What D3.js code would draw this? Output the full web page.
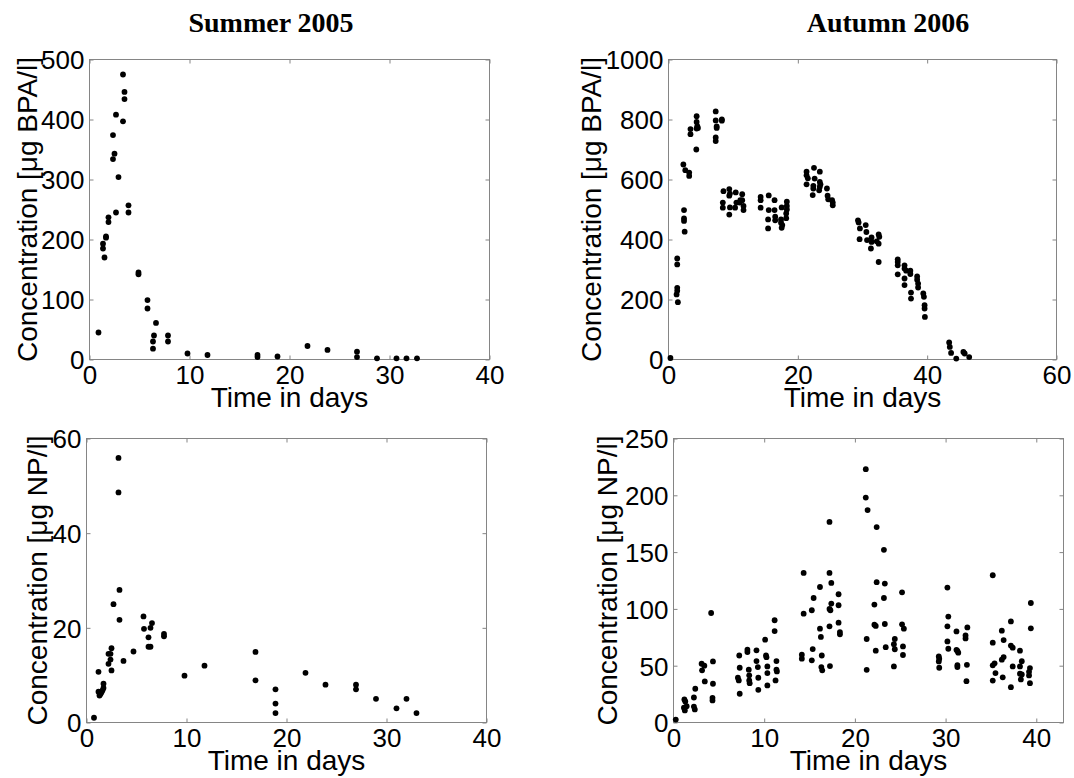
<!DOCTYPE html>
<html lang="en">
<head>
<meta charset="UTF-8">
<title>BPA and NP concentrations</title>
<script src="https://d3js.org/d3.v7.min.js"></script>
<style>
  body { margin: 0; background: #fff; }
  svg { display: block; }
  .tick text { font-family: "Liberation Sans", Arial, sans-serif; font-size: 26px; fill: #000; }
  .axis-label { font-family: "Liberation Sans", Arial, sans-serif; font-size: 28px; fill: #000; }
  .title { font-family: "Liberation Serif", "Times New Roman", serif; font-weight: bold; font-size: 28px; fill: #000; }
</style>
</head>
<body>
<svg id="chart"></svg>
<script>
// [day, concentration] pairs
const bpaSummer = [
  [0.9, 45], [1.5, 170], [1.35, 185], [1.35, 193], [1.65, 203], [1.65, 205], [1.9, 229], [1.9, 237],
  [2.65, 245], [3.9, 257], [3.9, 245], [2.9, 304], [2.35, 334], [2.5, 343], [2.35, 374], [2.65, 408],
  [3.35, 397], [3.5, 434], [3.5, 446], [3.35, 475], [4.9, 145], [4.9, 142], [5.8, 99], [5.8, 85],
  [6.65, 61], [6.45, 40], [6.35, 30], [6.35, 18], [7.85, 40], [7.85, 30], [9.8, 10], [11.8, 7.5],
  [16.8, 7.5], [16.8, 4], [18.8, 5], [21.8, 22.5], [23.8, 16], [26.75, 13], [26.75, 4], [28.75, 2],
  [30.7, 2], [31.7, 2], [32.75, 2]
];

const bpaAutumn = [
  [0.3, 5], [1.35, 337], [1.35, 317], [1.35, 239], [1.35, 229], [1.25, 217], [1.45, 191],
  [2.5, 426], [2.4, 498], [2.4, 470], [2.4, 462], [2.3, 650], [2.6, 631], [3.2, 623], [3.2, 612],
  [3.4, 768], [3.4, 751], [4.3, 700], [4.35, 811], [4.35, 792], [4.45, 778], [4.35, 770], [4.55, 772],
  [7.3, 827], [7.3, 797], [7.45, 777], [7.45, 772], [7.3, 740], [7.3, 728], [8.25, 800], [8.25, 796],
  [8.4, 523], [8.4, 506], [8.5, 561], [9.4, 568], [9.5, 553], [9.4, 546], [9.4, 483], [9.5, 507],
  [10.3, 506], [10.4, 557], [10.5, 523], [11.4, 551], [11.4, 531], [11.6, 512], [11.6, 498],
  [11.0, 523], [11.1, 531],
  [14.25, 542], [14.25, 531], [14.25, 506], [15.5, 547], [15.5, 498], [15.4, 467], [15.4, 437],
  [16.4, 531], [16.4, 498], [16.5, 476], [16.5, 464], [17.4, 467], [17.4, 456], [17.5, 439],
  [17.6, 448], [17.5, 507], [18.3, 526], [18.3, 512], [18.3, 500], [18.2, 487], [18.2, 471],
  [21.35, 626], [21.35, 614], [21.35, 584], [21.55, 604], [22.5, 639], [22.6, 603], [22.4, 579],
  [22.4, 570], [22.3, 548], [23.4, 626], [23.4, 592], [23.4, 576], [23.3, 564], [23.5, 584],
  [24.5, 570], [24.6, 546], [24.7, 534], [25.3, 531], [25.4, 523], [25.4, 514],
  [29.3, 464], [29.4, 457], [29.6, 437], [29.55, 401], [30.5, 448], [30.6, 425], [30.7, 398],
  [31.4, 407], [31.4, 392], [31.3, 370], [32.2, 394], [32.5, 417], [32.6, 409], [32.5, 386], [32.5, 325],
  [35.45, 334], [35.45, 325], [35.45, 314], [35.45, 284], [36.5, 314], [36.5, 303], [36.5, 270],
  [36.5, 248], [36.75, 296], [37.4, 296], [37.4, 285], [37.5, 223], [37.5, 203], [38.45, 277],
  [38.45, 266], [38.6, 253], [38.6, 240], [39.4, 220], [39.5, 209], [39.6, 181], [39.6, 170], [39.65, 142],
  [43.4, 57], [43.5, 42], [43.7, 22], [44.5, 3], [45.6, 25], [45.8, 20], [46.5, 8]
];

const npSummer = [
  [0.75, 1], [1.2, 10.7], [1.2, 6.5], [1.3, 5.7], [1.4, 6.0], [1.5, 6.4], [1.6, 6.8], [1.7, 7.3],
  [1.7, 8.2], [2.5, 15.7], [2.2, 14.5], [2.4, 14.5], [2.4, 13.3], [2.2, 12.4], [2.5, 11.0],
  [2.7, 25.0], [3.2, 55.9], [3.2, 48.6], [3.3, 28.0], [3.3, 21.7], [3.7, 13.0], [4.7, 15.0],
  [5.7, 22.4], [5.75, 19.8], [6.2, 18.0], [6.2, 16.0], [6.4, 16.0], [6.4, 20.0], [6.55, 21.0],
  [7.75, 18.7], [7.75, 18.2], [9.8, 9.9], [11.8, 12.0], [16.9, 14.9], [16.9, 8.9], [18.9, 7.0],
  [18.9, 4.0], [18.9, 2.0], [21.9, 10.5], [23.9, 8.0], [26.95, 8.0], [26.95, 7.0], [28.95, 5.0],
  [31.0, 3.0], [32.0, 5.0], [33.0, 2.0]
];

const npAutumn = [
  [0.25, 2.6], [1.2, 20.3], [1.3, 18.5], [1.15, 13], [1.25, 10.6], [1.45, 14.4], [2.25, 22],
  [2.25, 14], [2.35, 11.5], [2.4, 29.7], [3.15, 45.9], [3.1, 51.7], [3.4, 50], [3.45, 36.2],
  [4.15, 96.4], [4.35, 53.8], [4.35, 34.1], [4.3, 21.7], [4.3, 19.4],
  [7.25, 59], [7.3, 48.2], [7.1, 39.4], [7.2, 37], [7.3, 25.3], [8.15, 64.1], [8.15, 62], [8.3, 46.5],
  [8.35, 41.5], [8.35, 37], [8.4, 34.6], [9.15, 63.5], [9.15, 54.1], [9.3, 48.8], [9.35, 39.4],
  [9.35, 28.8], [10.1, 72.9], [10.2, 59], [10.25, 57.5], [10.35, 49.4], [10.35, 43.5], [10.35, 32.6],
  [11.15, 90], [11.15, 80.5], [11.35, 54.1], [11.35, 46.5], [11.4, 45], [11.25, 37],
  [14.35, 131.7], [14.35, 95.8], [14.15, 59.7], [14.15, 56.2], [15.45, 109.6], [15.25, 98.8],
  [15.35, 64.6], [15.25, 54.7], [16.15, 119.3], [16.15, 82.6], [16.25, 75.3], [16.35, 59],
  [16.3, 48.8], [16.4, 45.9], [17.25, 49.7], [17.2, 176.6], [17.2, 131.7], [17.4, 122.9],
  [17.4, 104.7], [17.2, 100], [17.3, 98.8], [17.2, 84.7], [18.2, 112.9], [18.2, 103.2],
  [18.2, 87.9], [18.35, 79.6], [18.35, 77.6],
  [21.2, 223], [21.2, 198], [21.4, 187], [22.4, 172], [23.2, 152], [22.4, 123.5], [23.3, 122.3],
  [23.2, 109.6], [25.2, 114.6], [22.15, 103.8], [22.15, 86.1], [22.3, 85], [23.3, 86.7], [25.2, 86.4],
  [25.4, 82.6], [21.3, 73.5], [22.3, 63.2], [23.4, 66.3], [24.4, 73.5], [24.3, 68.9], [24.4, 64.5],
  [25.3, 67], [25.3, 59.4], [21.3, 46.4], [24.3, 49.4],
  [30.2, 118.8], [30.3, 93.2], [30.2, 84.7], [31.2, 80.2], [32.4, 83.7], [32.2, 76.6], [32.2, 74],
  [30.2, 71.4], [30.3, 64.9], [31.3, 63], [31.4, 61.5], [31.2, 64], [29.25, 58.2], [29.3, 56.2],
  [29.25, 53.8], [29.3, 48.2], [31.3, 50.5], [31.3, 48.8], [32.35, 50.8], [32.3, 36.4],
  [35.2, 129.6], [39.4, 105.2], [39.4, 82.9], [37.2, 89], [36.2, 80.8], [36.4, 72.6], [35.2, 70.3],
  [37.2, 67.7], [37.4, 65.9], [38.2, 63.2], [36.4, 57.6], [36.2, 55.3], [38.4, 53.9], [35.4, 52.1],
  [35.2, 50.3], [37.4, 49.4], [38.2, 49.4], [39.3, 47.9], [39.2, 44.6], [35.5, 43.5], [38.2, 43],
  [38.4, 42.3], [39.2, 41.4], [36.3, 39.8], [35.2, 36.9], [38.3, 37.9], [37.2, 31.1], [39.3, 34.6]
];

const xTicksSummer = [0, 10, 20, 30, 40];
const xTicksBpaAutumn = [0, 20, 40, 60];
const xTicksNpAutumn = [0, 10, 20, 30, 40];
const yTicksBpaSummer = [0, 100, 200, 300, 400, 500];
const yTicksBpaAutumn = [0, 200, 400, 600, 800, 1000];
const yTicksNpSummer = [0, 20, 40, 60];
const yTicksNpAutumn = [0, 50, 100, 150, 200, 250];

const titles = ["Summer 2005", "Autumn 2006"];
const xLabel = "Time in days";
const yLabelBpa = "Concentration [\u03bcg BPA/l]";
const yLabelNp = "Concentration [\u03bcg NP/l]";

const W = 1074, H = 778;
const svg = d3.select("#chart").attr("width", W).attr("height", H);

const panels = [
  { data: bpaSummer, xMax: 40, yMax: 500, xTicks: xTicksSummer, yTicks: yTicksBpaSummer,
    left: 89.5, top: 59.5, right: 489.5, bottom: 359.5, yLabel: yLabelBpa, labelX: 37 },
  { data: bpaAutumn, xMax: 60, yMax: 1000, xTicks: xTicksBpaAutumn, yTicks: yTicksBpaAutumn,
    left: 668.5, top: 59.5, right: 1056.5, bottom: 359.5, yLabel: yLabelBpa, labelX: 601 },
  { data: npSummer, xMax: 40, yMax: 60, xTicks: xTicksSummer, yTicks: yTicksNpSummer,
    left: 86.5, top: 438.5, right: 486.5, bottom: 722.5, yLabel: yLabelNp, labelX: 47 },
  { data: npAutumn, xMax: 43, yMax: 250, xTicks: xTicksNpAutumn, yTicks: yTicksNpAutumn,
    left: 673.5, top: 438.5, right: 1063.5, bottom: 722.5, yLabel: yLabelNp, labelX: 617 }
];

const axisColor = "#858585";

function drawPanel(p) {
  const x = d3.scaleLinear().domain([0, p.xMax]).range([p.left, p.right]);
  const y = d3.scaleLinear().domain([0, p.yMax]).range([p.bottom, p.top]);
  const g = svg.append("g");

  g.append("rect")
    .attr("x", p.left).attr("y", p.top)
    .attr("width", p.right - p.left).attr("height", p.bottom - p.top)
    .attr("fill", "#fff").attr("stroke", axisColor).attr("stroke-width", 1);

  // ticks inside on all four sides, labels only bottom and left
  const styleAxis = sel => {
    sel.attr("font-size", null).attr("font-family", null);
    sel.select(".domain").remove();
    sel.selectAll(".tick line").attr("stroke", axisColor);
  };

  g.append("g").attr("transform", `translate(0,${p.bottom})`)
    .call(d3.axisBottom(x).tickValues(p.xTicks).tickSize(-4).tickPadding(6.5).tickFormat(d3.format("d")))
    .call(styleAxis);
  g.append("g").attr("transform", `translate(0,${p.top})`)
    .call(d3.axisTop(x).tickValues(p.xTicks).tickSize(-4).tickFormat(""))
    .call(styleAxis);
  g.append("g").attr("transform", `translate(${p.left},0)`)
    .call(d3.axisLeft(y).tickValues(p.yTicks).tickSize(-4).tickPadding(5).tickFormat(d3.format("d")))
    .call(styleAxis)
    .selectAll(".tick text").attr("dy", "0.36em");
  g.append("g").attr("transform", `translate(${p.right},0)`)
    .call(d3.axisRight(y).tickValues(p.yTicks).tickSize(-4).tickFormat(""))
    .call(styleAxis);

  g.append("g").selectAll("circle")
    .data(p.data)
    .join("circle")
    .attr("cx", d => x(d[0]))
    .attr("cy", d => y(d[1]))
    .attr("r", 2.9)
    .attr("fill", "#000");

  g.append("text")
    .attr("class", "axis-label")
    .attr("x", (p.left + p.right) / 2)
    .attr("y", p.bottom + 47)
    .attr("text-anchor", "middle")
    .text(xLabel);

  g.append("text")
    .attr("class", "axis-label")
    .attr("transform", `translate(${p.labelX},${(p.top + p.bottom) / 2}) rotate(-90)`)
    .attr("text-anchor", "middle")
    .text(p.yLabel);
}

panels.forEach(drawPanel);

svg.append("text").attr("class", "title")
  .attr("x", 271).attr("y", 32).attr("text-anchor", "middle").text(titles[0]);
svg.append("text").attr("class", "title")
  .attr("x", 888).attr("y", 32).attr("text-anchor", "middle").text(titles[1]);
</script>
</body>
</html>
